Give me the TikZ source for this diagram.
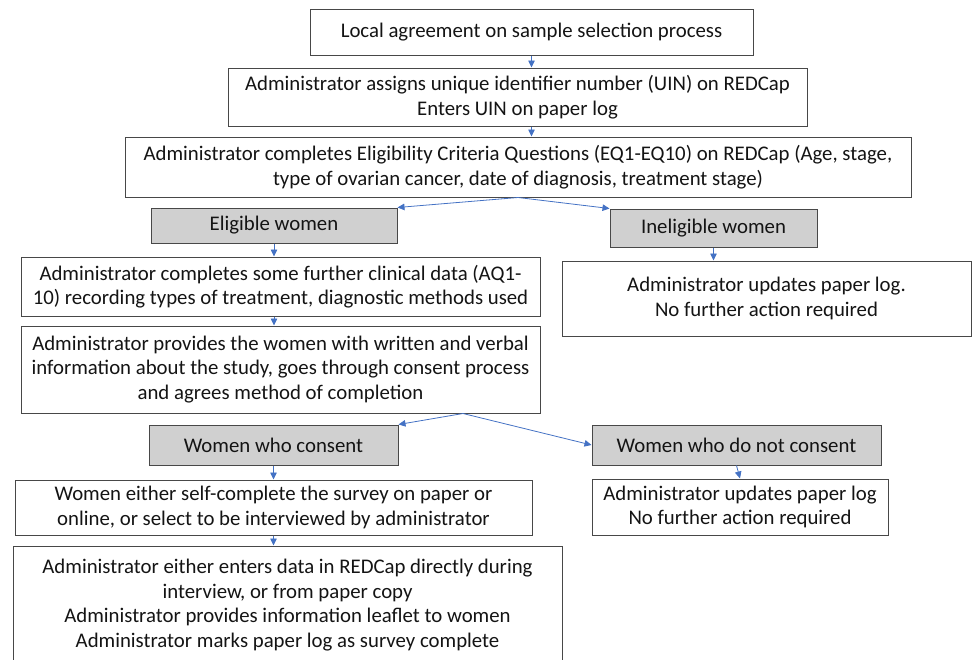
\documentclass[tikz,border=0pt]{standalone}
\usepackage{fontspec}
\usetikzlibrary{arrows.meta}
\setmainfont{Carlito}
\definecolor{flowblue}{RGB}{68,114,196}
\definecolor{stepgray}{RGB}{208,208,208}
\definecolor{edgegray}{RGB}{72,72,72}
\definecolor{textblack}{RGB}{20,20,20}

\begin{document}
\begin{tikzpicture}[x=1pt,y=-1pt,
  stepbox/.style={draw=edgegray,line width=1pt,fill=white,align=center,inner sep=0pt,
    text=textblack,font=\fontsize{20.8}{24.5}\selectfont},
  groupbox/.style={stepbox,fill=stepgray},
  flow/.style={draw=flowblue,line width=0.8pt,-{Triangle[length=7pt,width=6.5pt]}}]

\path[use as bounding box,clip] (0,0) rectangle (972,659);

\node[stepbox,minimum width=443,minimum height=46] (agree) at (531.5,32) {Local agreement on sample selection process};
\node[stepbox,minimum width=579,minimum height=58] (uin) at (517.5,97) {Administrator assigns unique identifier number (UIN) on REDCap\\Enters UIN on paper log};
\node[stepbox,minimum width=786,minimum height=60] (criteria) at (518,167) {Administrator completes Eligibility Criteria Questions (EQ1-EQ10) on REDCap (Age, stage,\\type of ovarian cancer, date of diagnosis, treatment stage)};

\node[groupbox,minimum width=246,minimum height=35] (eligible) at (274,225.5) {Eligible women};
\node[groupbox,minimum width=207,minimum height=38] (ineligible) at (713.5,228) {Ineligible women};

\node[stepbox,minimum width=519,minimum height=59] (clinical) at (280.5,286.5) {Administrator completes some further clinical data (AQ1-\\10) recording types of treatment, diagnostic methods used};
\node[stepbox,minimum width=409,minimum height=75] (logA) at (766.5,298.5) {Administrator updates paper log.\\No further action required};
\node[stepbox,minimum width=519,minimum height=87] (inform) at (280.5,369.5) {Administrator provides the women with written and verbal\\information about the study, goes through consent process\\and agrees method of completion};

\node[groupbox,minimum width=249,minimum height=40] (consent) at (273.5,445) {Women who consent};
\node[groupbox,minimum width=289,minimum height=40] (noconsent) at (736.5,445) {Women who do not consent};

\node[stepbox,minimum width=517,minimum height=55] (survey) at (273.5,507.5) {Women either self-complete the survey on paper or\\online, or select to be interviewed by administrator};
\node[stepbox,minimum width=296,minimum height=56] (logB) at (740,507) {Administrator updates paper log\\No further action required};
\node[stepbox,minimum width=549,minimum height=118] (entry) at (287.5,605) {Administrator either enters data in REDCap directly during\\interview, or from paper copy\\Administrator provides information leaflet to women\\Administrator marks paper log as survey complete};

\coordinate (split) at ([xshift=182.5]inform.south);

\draw[flow] (agree.south) -- (agree.south |- uin.north);
\draw[flow] (agree.south |- uin.south) -- (agree.south |- criteria.north);
\draw[flow] (criteria.south) -- (eligible.north east);
\draw[flow] (criteria.south) -- (ineligible.north west);
\draw[flow] (eligible.south) -- (eligible.south |- clinical.north);
\draw[flow] (ineligible.south) -- (ineligible.south |- logA.north);
\draw[flow] (eligible.south |- clinical.south) -- (eligible.south |- inform.north);
\draw[flow] (split) -- (consent.north east);
\draw[flow] (split) -- (noconsent.west);
\draw[flow] (consent.south) -- (consent.south |- survey.north);
\draw[flow] (consent.south |- survey.south) -- (consent.south |- entry.north);
\draw[flow] (noconsent.south) -- (logB.north);

\end{tikzpicture}
\end{document}
